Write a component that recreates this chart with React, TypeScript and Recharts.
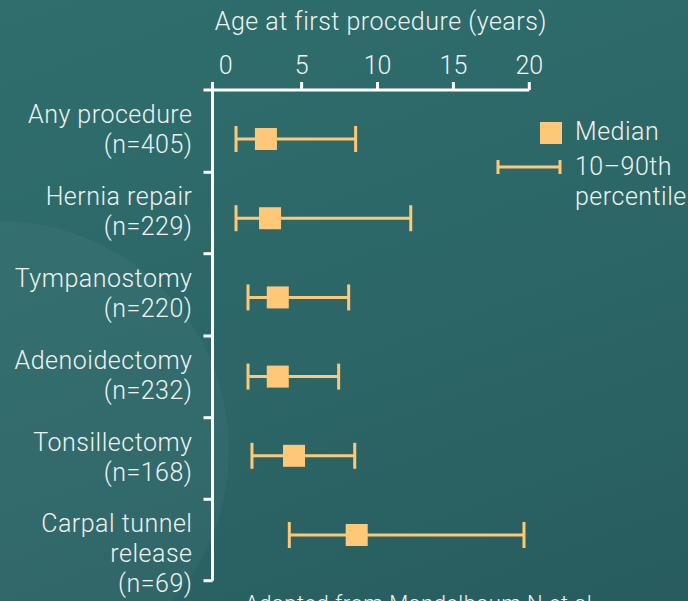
import React from "react";
import { ScatterChart, Scatter, XAxis, YAxis, ErrorBar, Legend } from "recharts";

const CATEGORIES = [
  "Any procedure",
  "Hernia repair",
  "Tympanostomy",
  "Adenoidectomy",
  "Tonsillectomy",
  "Carpal tunnel\nrelease",
];
const N_COUNTS = [405, 229, 220, 232, 168, 69];
const MEDIAN = [2.65, 2.92, 3.43, 3.43, 4.5, 8.63];
const P10 = [0.68, 0.68, 1.47, 1.47, 1.73, 4.19];
const P90 = [8.56, 12.19, 8.1, 7.44, 8.5, 19.65];

const X_TICKS = [0, 5, 10, 15, 20];
const X_MIN = -0.87;
// row boundaries (in row units) where the y axis tick marks sit
const ROW_BOUNDS = [-0.619, 0.42, 1.448, 2.487, 3.519, 4.549, 5.577];

const TITLE = "Age at first procedure (years)";
const LEGEND_ITEMS = [
  { type: "square", label: ["Median"] },
  { type: "whisker", label: ["10–90th", "percentile"] },
];
const SOURCE = "Adapted from Mandelbaum N et al.";

const FONT = "Roboto, 'Liberation Sans', Arial, sans-serif";
const WEIGHT = 300;
const SPACING = 0.5;
const TEXT = "#eef3f2";
const GOLD = "#ffc878";
const AXIS = "#ffffff";

const data = CATEGORIES.map((c, i) => ({
  name: c,
  row: i,
  median: MEDIAN[i],
  err: [MEDIAN[i] - P10[i], P90[i] - MEDIAN[i]],
}));

function XTick(props: any) {
  const { x, y, payload } = props;
  const v = payload.value;
  return (
    <g>
      {v !== 0 && <line x1={x} x2={x} y1={y} y2={y + 8} stroke={AXIS} strokeWidth={3} />}
      {v >= 0 && (
        <text
          x={x}
          y={y - 8}
          textAnchor="middle"
          fill={TEXT}
          fontSize={25}
          fontWeight={WEIGHT}
          fontFamily={FONT}
        >
          {v}
        </text>
      )}
    </g>
  );
}

function YTick(props: any) {
  const { x, y, index } = props;
  if (index >= CATEGORIES.length) return null;
  const lines = [...CATEGORIES[index].split("\n"), `(n=${N_COUNTS[index]})`];
  return (
    <text
      textAnchor="end"
      fill={TEXT}
      fontSize={25}
      fontWeight={WEIGHT}
      fontFamily={FONT}
      letterSpacing={SPACING}
    >
      {lines.map((l, k) => (
        <tspan key={k} x={x - 11} y={y + 33 + k * 30}>
          {l}
        </tspan>
      ))}
    </text>
  );
}

function Square(props: any) {
  const { cx, cy } = props;
  return <rect x={cx - 11} y={cy - 11} width={22} height={22} fill={GOLD} />;
}

function LegendBox() {
  return (
    <div
      style={{
        fontFamily: FONT,
        fontWeight: WEIGHT,
        letterSpacing: SPACING,
        color: TEXT,
        fontSize: 25,
      }}
    >
      {LEGEND_ITEMS.map((item, i) => (
        <div key={i} style={{ display: "flex", alignItems: "flex-start", marginBottom: 5 }}>
          <svg width={85} height={30} style={{ flex: "none" }}>
            {item.type === "square" ? (
              <rect x={50} y={5} width={22} height={22} fill={GOLD} />
            ) : (
              <g stroke={GOLD} strokeWidth={3}>
                <line x1={8} x2={70} y1={15} y2={15} />
                <line x1={8} x2={8} y1={8} y2={22} />
                <line x1={70} x2={70} y1={8} y2={22} />
              </g>
            )}
          </svg>
          <div style={{ lineHeight: "30px", whiteSpace: "nowrap" }}>
            {item.label.map((l, k) => (
              <div key={k}>{l}</div>
            ))}
          </div>
        </div>
      ))}
    </div>
  );
}

export default function App() {
  return (
    <div
      style={{
        position: "absolute",
        left: 0,
        top: 0,
        width: 688,
        height: 601,
        overflow: "hidden",
        background: "linear-gradient(160deg, #2f6e6d 0%, #2c6667 55%, #285c5e 100%)",
      }}
    >
      <div
        style={{
          position: "absolute",
          left: -229,
          top: 221,
          width: 458,
          height: 458,
          borderRadius: "50%",
          background: "rgba(255,255,255,0.035)",
        }}
      />
      <ScatterChart
        width={688}
        height={601}
        margin={{ top: 40, right: 158.7, bottom: 20.3, left: 12.5 }}
        style={{ position: "absolute", left: 0, top: 0 }}
      >
        <XAxis
          type="number"
          dataKey="median"
          orientation="top"
          domain={[X_MIN, 20]}
          ticks={[X_MIN, ...X_TICKS]}
          interval={0}
          height={50}
          tickSize={8}
          tickMargin={0}
          tickLine={false}
          axisLine={{ stroke: AXIS, strokeWidth: 3 }}
          tick={<XTick />}
          allowDataOverflow
          label={(p: any) => {
            const vb = p.viewBox;
            return (
              <text
                x={vb.x + vb.width / 2 + 10}
                y={vb.y - 10}
                textAnchor="middle"
                fill={TEXT}
                fontSize={25}
                fontWeight={WEIGHT}
                fontFamily={FONT}
                letterSpacing={SPACING}
              >
                {TITLE}
              </text>
            );
          }}
        />
        <YAxis
          type="number"
          dataKey="row"
          reversed
          domain={[ROW_BOUNDS[0], ROW_BOUNDS[ROW_BOUNDS.length - 1]]}
          ticks={ROW_BOUNDS}
          interval={0}
          width={200}
          tickSize={9}
          tickMargin={0}
          tickLine={{ stroke: AXIS, strokeWidth: 3 }}
          axisLine={{ stroke: AXIS, strokeWidth: 3 }}
          tick={<YTick />}
          allowDataOverflow
        />
        <Scatter data={data} shape={<Square />} isAnimationActive={false}>
          <ErrorBar
            dataKey="err"
            direction="x"
            width={13}
            stroke={GOLD}
            strokeWidth={3}
            isAnimationActive={false}
          />
        </Scatter>
        <Legend
          layout="horizontal"
          verticalAlign="middle"
          align="center"
          wrapperStyle={{ left: 490, top: 117, width: 198 }}
          content={() => <LegendBox />}
        />
      </ScatterChart>
      <div
        style={{
          position: "absolute",
          left: 245,
          top: 593,
          fontFamily: FONT,
          fontWeight: WEIGHT,
          fontSize: 22,
          lineHeight: 1,
          letterSpacing: SPACING,
          color: TEXT,
          whiteSpace: "nowrap",
        }}
      >
        {SOURCE}
      </div>
    </div>
  );
}
